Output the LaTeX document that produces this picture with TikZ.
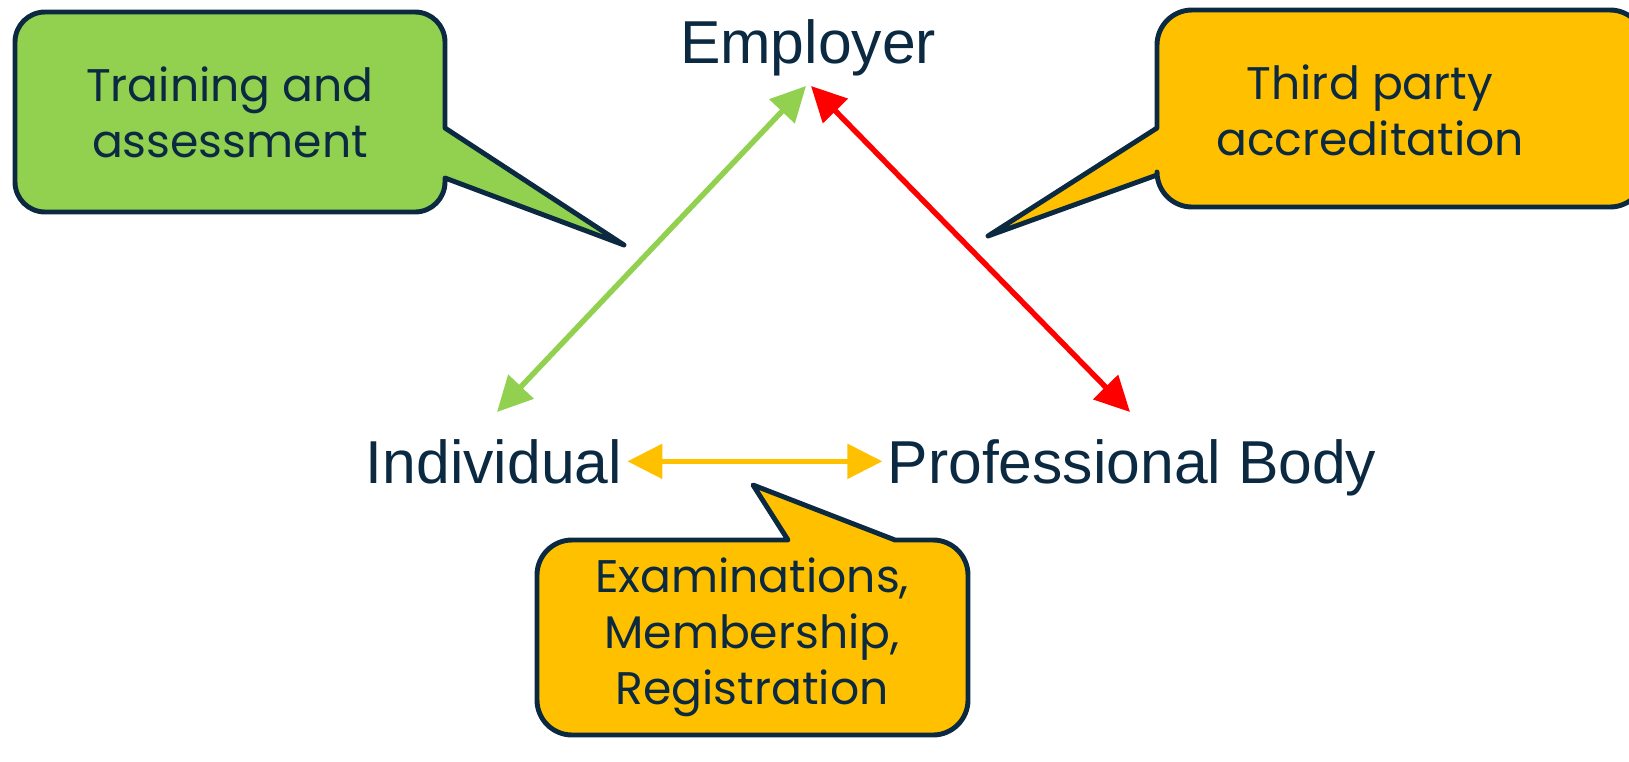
\documentclass[tikz,border=0pt]{standalone}
\usepackage{fontspec}
\setmainfont{Liberation Sans}
\newfontfamily\bubblefont{Poppins}
\usetikzlibrary{arrows.meta}
\definecolor{navy}{HTML}{0B2A42}
\definecolor{leafgreen}{HTML}{92D050}
\definecolor{amber}{HTML}{FFC000}
\begin{document}
\begin{tikzpicture}
            [x=0.02cm, y=-0.02cm,
            party/.style={text=navy, font=\fontsize{34.5}{40}\selectfont, inner sep=0.1cm, anchor=base},
            note/.style={text=navy, font=\bubblefont\fontsize{26}{32}\selectfont, align=center},
            bubble/.style={draw=navy, line width=2.8pt, line join=round},
            link/.style={line width=3.1pt, {Triangle[length=0.7cm,width=0.68cm]}-{Triangle[length=0.7cm,width=0.68cm]}}]

            \useasboundingbox (0,0) rectangle (1629,761);

            % callouts
            \draw[bubble, fill=leafgreen] (230,12) [rounded corners=0.6cm] -- (445,12) [sharp corners] -- (445,128) -- (624,245) -- (445,178) [rounded corners=0.6cm] -- (445,212) -- (15,212) -- (15,12) -- cycle;
            \draw[bubble, fill=amber] (1400,10) [rounded corners=0.7cm] -- (1645,10) -- (1645,207) -- (1157,207) [sharp corners] -- (1157,175) -- (988,236) -- (1157,128) [rounded corners=0.7cm] -- (1157,10) -- cycle;
            \draw[bubble, fill=amber] (537,640) [rounded corners=0.7cm] -- (537,540) [sharp corners] -- (788,540) -- (753,485) -- (895,540) [rounded corners=0.7cm] -- (968,540) -- (968,735) -- (537,735) -- cycle;

            \node[note] (train) at (230,112) {Training and\\assessment};
            \node[note] (third) at (1370,110) {Third party\\accreditation};
            \node[note] (exam) at (752,637) {Examinations,\\Membership,\\Registration};

            \node[party] (emp) at (808,63) {Employer};
            \node[party] (ind) at (494,483) {Individual};
            \node[party] (prof) at (1132,483) {Professional Body};

            \coordinate (empL) at (806,86);
            \coordinate (empR) at (811,86);
            \coordinate (indT) at (497,412);
            \coordinate (profT) at (1130,412);

            \draw[link, leafgreen] (indT) -- (empL);
            \draw[link, red] (empR) -- (profT);
            \draw[link, amber] (ind.east) -- (ind.east -| prof.west);

        \end{tikzpicture}
\end{document}
